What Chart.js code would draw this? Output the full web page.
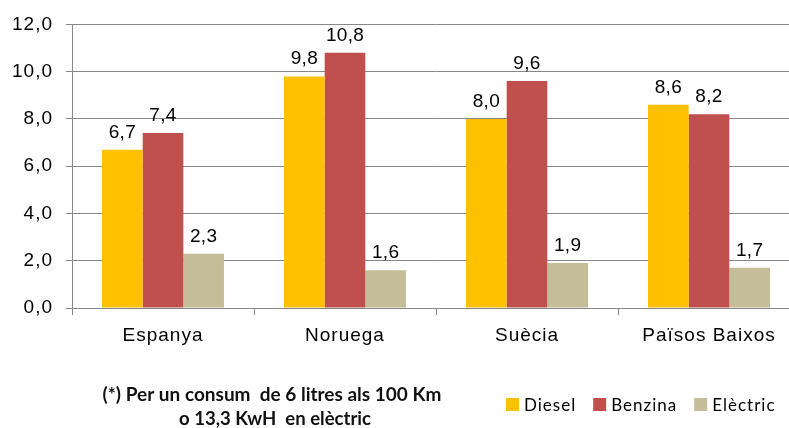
<!DOCTYPE html>
<html><head><meta charset="utf-8">
<script src="https://cdn.jsdelivr.net/npm/chart.js@4"></script>
<style>
html,body{margin:0;padding:0;background:#fff;overflow:hidden}
#wrap{position:relative;width:789px;height:428px;overflow:hidden;background:#fff}
canvas{position:absolute;left:0;top:0}
</style></head>
<body><div id="wrap"><canvas id="c" width="812" height="428"></canvas></div>
<script>
const categories = ['Espanya', 'Noruega', 'Suècia', 'Països Baixos'];
const seriesNames = ['Diesel', 'Benzina', 'Elèctric'];
const diesel = [6.7, 9.8, 8.0, 8.6];
const benzina = [7.4, 10.8, 9.6, 8.2];
const electric = [2.3, 1.6, 1.9, 1.7];
const yTicks = [0, 2, 4, 6, 8, 10, 12];
const footnote = ['(*) Per un consum  de 6 litres als 100 Km', 'o 13,3 KwH  en elèctric'];
const colors = ['#FFC000', '#C0504D', '#C4BD97'];

const fmt = v => Number(v).toFixed(1).replace('.', ',');
const SANS = '"Liberation Sans", Arial, sans-serif';

const spacingPlugin = {
  id: 'spacing',
  beforeUpdate(c) { c.ctx.letterSpacing = '1px'; },
  beforeLayout(c) { c.ctx.letterSpacing = '1px'; },
  beforeDraw(c) { c.ctx.letterSpacing = '1px'; }
};

const labelPlugin = {
  id: 'valueLabels',
  afterDatasetsDraw(c) {
    const ctx = c.ctx;
    ctx.save();
    ctx.letterSpacing = '0.3px';
    ctx.font = '19px ' + SANS;
    ctx.fillStyle = '#000';
    ctx.textAlign = 'center';
    ctx.textBaseline = 'alphabetic';
    c.data.datasets.forEach((ds, i) => {
      c.getDatasetMeta(i).data.forEach((el, j) => {
        ctx.fillText(fmt(ds.data[j]), el.x, el.y - 12);
      });
    });
    ctx.restore();
  }
};

const extrasPlugin = {
  id: 'extras',
  afterDraw(c) {
    const ctx = c.ctx;
    ctx.save();
    // legend
    ctx.letterSpacing = '1px';
    ctx.font = '17px Lato, "Open Sans", sans-serif';
    ctx.textBaseline = 'alphabetic';
    ctx.textAlign = 'left';
    let x = 506;
    c.data.datasets.forEach(ds => {
      ctx.fillStyle = ds.backgroundColor;
      ctx.fillRect(x, 398, 13, 13);
      ctx.fillStyle = '#000';
      ctx.fillText(ds.label, x + 18, 411);
      x += 18 + ctx.measureText(ds.label).width + 17;
    });
    // footnote
    ctx.letterSpacing = '0px';
    ctx.font = 'bold 19px Lato, "Open Sans", sans-serif';
    ctx.fillStyle = '#111';
    ctx.textAlign = 'center';
    ctx.fillText(footnote[0], 272, 401, 352);
    ctx.fillText(footnote[1], 275, 425, 192);
    ctx.restore();
  }
};

new Chart(document.getElementById('c'), {
  type: 'bar',
  data: {
    labels: categories,
    datasets: [
      { label: seriesNames[0], data: diesel, backgroundColor: colors[0] },
      { label: seriesNames[1], data: benzina, backgroundColor: colors[1] },
      { label: seriesNames[2], data: electric, backgroundColor: colors[2] }
    ]
  },
  options: {
    responsive: false,
    animation: false,
    devicePixelRatio: 1,
    layout: { padding: { top: 22, right: 12, bottom: 0, left: 0 } },
    datasets: { bar: { categoryPercentage: 0.67, barPercentage: 1.0 } },
    plugins: { legend: { display: false }, tooltip: { enabled: false } },
    scales: {
      x: {
        grid: { offset: true, drawOnChartArea: false, color: '#888', tickLength: 7, lineWidth: 1 },
        border: { display: true, color: '#888', width: 1 },
        ticks: { color: '#000', font: { family: SANS, size: 19 }, padding: 9, maxRotation: 0 },
        afterFit(s) { s.height = 120; }
      },
      y: {
        min: 0, max: 12,
        afterBuildTicks(s) { s.ticks = yTicks.map(v => ({ value: v })); },
        grid: { color: '#888', tickLength: 6, lineWidth: 1 },
        border: { display: true, color: '#888', width: 1 },
        ticks: { color: '#000', font: { family: SANS, size: 19 }, padding: 13, callback: v => fmt(v) },
        afterFit(s) { s.width = 72; }
      }
    }
  },
  plugins: [spacingPlugin, labelPlugin, extrasPlugin]
});
</script>
</body></html>
